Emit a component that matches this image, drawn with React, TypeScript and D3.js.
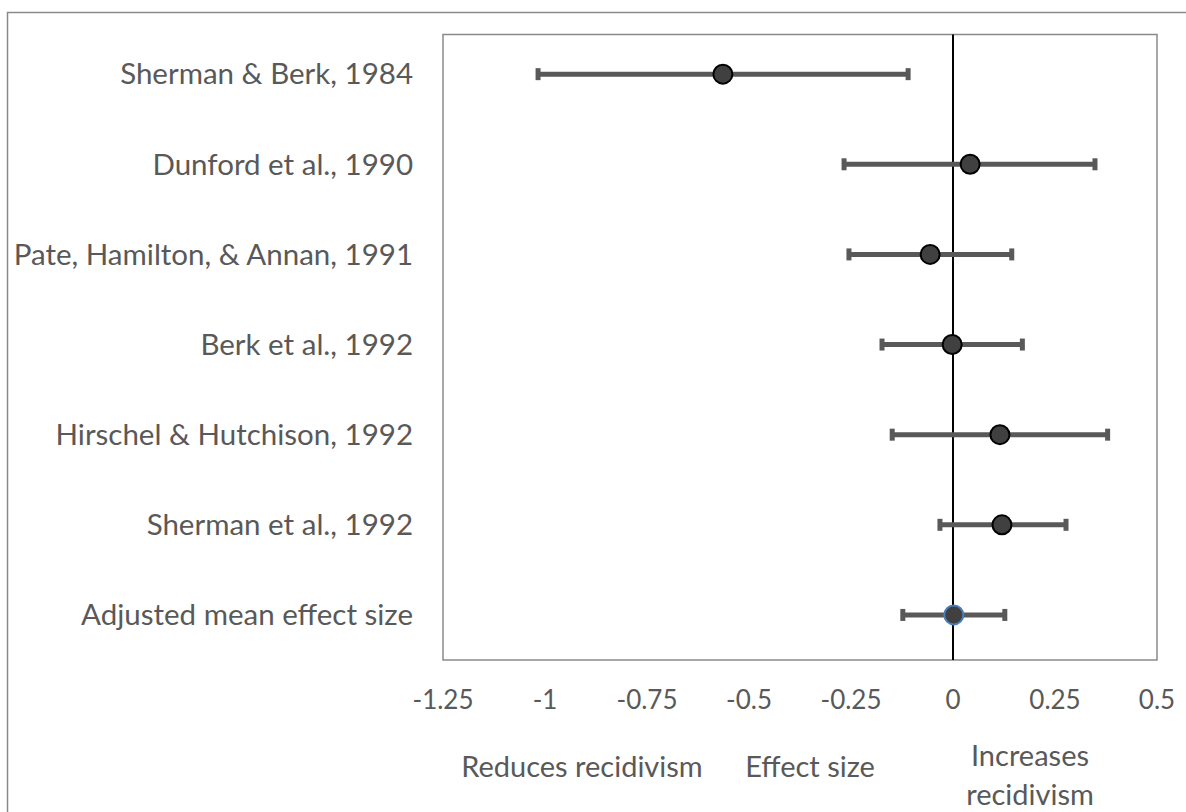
import React from "react";
import * as d3 from "d3";

const studies = [
  "Sherman & Berk, 1984",
  "Dunford et al., 1990",
  "Pate, Hamilton, & Annan, 1991",
  "Berk et al., 1992",
  "Hirschel & Hutchison, 1992",
  "Sherman et al., 1992",
  "Adjusted mean effect size",
];
const effect = [-0.564, 0.042, -0.056, -0.002, 0.115, 0.12, 0.002];
const lower = [-1.017, -0.267, -0.255, -0.174, -0.149, -0.032, -0.123];
const upper = [-0.11, 0.348, 0.144, 0.17, 0.379, 0.277, 0.127];
const rowPos = [7, 6, 5, 4, 3, 2, 1];
const xTicks = [-1.25, -1, -0.75, -0.5, -0.25, 0, 0.25, 0.5];

const W = 1186;
const H = 812;
const plot = { left: 443, right: 1157, top: 34.5, bottom: 660 };
const textColor = "#595959";
const font = "Lato, 'Open Sans', sans-serif";

export default function App() {
  const x = d3.scaleLinear().domain([-1.25, 0.5]).range([plot.left, plot.right]);
  const y = d3.scaleLinear().domain([0.5, 7.44]).range([plot.bottom, plot.top]);
  const capH = 12;
  return (
    <svg
      width={W}
      height={H}
      style={{ position: "absolute", left: 0, top: 0, background: "#fff" }}
      fontFamily={font}
    >
      <rect x={0} y={0} width={W} height={H} fill="#fff" />
      <path d={`M7.5,${H + 5} V12.5 H${W + 5}`} fill="none" stroke="#8a8a8a" strokeWidth={1.5} />
      <rect
        x={plot.left}
        y={plot.top}
        width={plot.right - plot.left}
        height={plot.bottom - plot.top}
        fill="none"
        stroke="#8a8a8a"
        strokeWidth={1.5}
      />
      <line x1={x(0)} x2={x(0)} y1={plot.top} y2={plot.bottom} stroke="#000" strokeWidth={2} />
      {studies.map((s, i) => (
        <text
          key={s}
          x={413}
          y={y(rowPos[i])}
          dy="0.35em"
          textAnchor="end"
          fontSize={29.5}
          fill={textColor}
        >
          {s}
        </text>
      ))}
      {studies.map((s, i) => {
        const cy = y(rowPos[i]);
        const isMean = i === studies.length - 1;
        return (
          <g key={"e" + s}>
            <line x1={x(lower[i])} x2={x(upper[i])} y1={cy} y2={cy} stroke="#595959" strokeWidth={5} />
            <line x1={x(lower[i])} x2={x(lower[i])} y1={cy - capH / 2} y2={cy + capH / 2} stroke="#595959" strokeWidth={5} />
            <line x1={x(upper[i])} x2={x(upper[i])} y1={cy - capH / 2} y2={cy + capH / 2} stroke="#595959" strokeWidth={5} />
            <circle
              cx={x(effect[i])}
              cy={cy}
              r={9.5}
              fill="#404040"
              stroke={isMean ? "#4a7ebb" : "#000"}
              strokeWidth={2}
            />
          </g>
        );
      })}
      {xTicks.map((t) => (
        <text key={t} x={x(t)} y={709} textAnchor="middle" fontSize={26} fill={textColor}>
          {String(t)}
        </text>
      ))}
      <text x={582} y={777} textAnchor="middle" fontSize={29} fill={textColor}>
        Reduces recidivism
      </text>
      <text x={810} y={777} textAnchor="middle" fontSize={29} fill={textColor}>
        Effect size
      </text>
      <text x={1030} y={766} textAnchor="middle" fontSize={29} fill={textColor}>
        Increases
      </text>
      <text x={1030} y={805} textAnchor="middle" fontSize={29} fill={textColor}>
        recidivism
      </text>
    </svg>
  );
}
